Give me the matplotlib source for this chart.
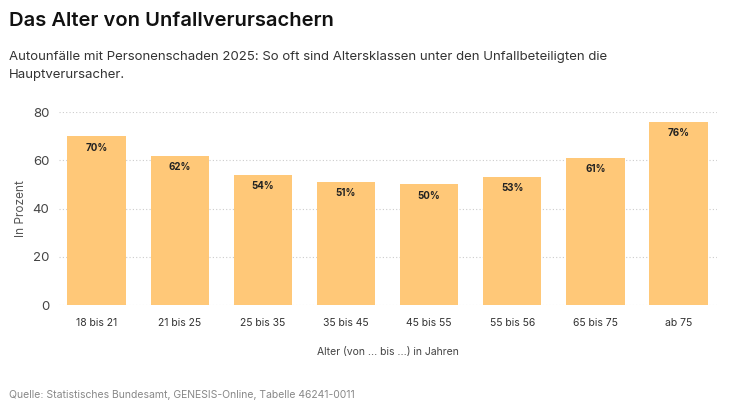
import matplotlib
matplotlib.use("Agg")
import matplotlib.pyplot as plt

plt.rcParams['font.family'] = ['Inter', 'DejaVu Sans']

# Altersklassen und Anteil als Hauptverursacher (in Prozent)
categories = ["18 bis 21", "21 bis 25", "25 bis 35", "35 bis 45",
              "45 bis 55", "55 bis 56", "65 bis 75", "ab 75"]
values = [70, 62, 54, 51, 50, 53, 61, 76]
yticks = [0, 20, 40, 60, 80]

bar_color = "#FFC878"

fig = plt.figure(figsize=(7.35, 4.13), dpi=100)
ax = fig.add_axes([0.0803, 0.2615, 0.895, 0.467])

x = range(len(categories))
ax.bar(x, values, width=0.7, color=bar_color, zorder=2)

# Werte oben in den Balken
for xi, v in zip(x, values):
    ax.text(xi, v - 2.6, f"{v}%", ha="center", va="top",
            fontsize=7, fontweight="bold", color="#222222", zorder=3)

ax.set_xlim(-0.45, 7.46)
ax.set_ylim(0, 80)
ax.set_yticks(yticks)
ax.set_xticks(list(x))
ax.set_xticklabels(categories)
ax.tick_params(axis="x", length=0, pad=9, labelsize=7.5, labelcolor="#333333")
ax.tick_params(axis="y", length=0, pad=7, labelsize=9.5, labelcolor="#444444")
ax.grid(axis="y", color="#cccccc", linestyle=(0, (1, 2)), linewidth=0.8, zorder=0)
ax.set_axisbelow(True)
for s in ax.spines.values():
    s.set_visible(False)

ax.set_ylabel("In Prozent", fontsize=8.5, color="#555555", labelpad=4)
ax.set_xlabel("Alter (von ... bis ...) in Jahren", fontsize=7.5,
              color="#444444", labelpad=14)

# Titel, Untertitel, Quelle
fig.text(0.012, 0.948, "Das Alter von Unfallverursachern", fontsize=14.5,
         fontweight="semibold", color="#111111", va="center")
fig.text(0.012, 0.862, "Autounfälle mit Personenschaden 2025: So oft sind "
         "Altersklassen unter den Unfallbeteiligten die", fontsize=9.5,
         color="#333333", va="center")
fig.text(0.012, 0.818, "Hauptverursacher.", fontsize=9.5,
         color="#333333", va="center")
fig.text(0.012, 0.044, "Quelle: Statistisches Bundesamt, GENESIS-Online, "
         "Tabelle 46241-0011", fontsize=7.5, color="#888888", va="center")

fig.savefig("out.png", dpi=100)
